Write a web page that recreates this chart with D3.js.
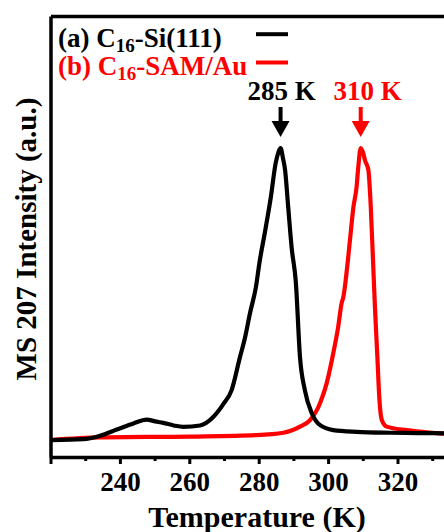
<!DOCTYPE html>
<html>
<head>
<meta charset="utf-8">
<script src="https://cdn.jsdelivr.net/npm/d3@7/dist/d3.min.js"></script>
<style>
  html, body { margin: 0; padding: 0; background: #fff; }
  svg { display: block; }
  text { font-family: "Liberation Serif", "Times New Roman", serif; font-weight: bold; }
</style>
</head>
<body>
<svg id="chart" width="444" height="532"></svg>
<script>
// TPD trace, C16-Si(111): temperature (K) and normalised MS 207 signal
const siTemp = [220, 229.5, 234.3, 239.1, 243.9, 247.7, 250.2, 252.5, 255.5, 258.3, 263.1, 266.9, 269.8, 272.2, 274.6, 276.1, 277.5, 279.2, 280.2, 281.9, 283.5, 284.9, 285.7, 286.3, 287.0, 287.6, 288.5, 289.5, 290.7, 291.9, 293.3, 295.3, 297.7, 301.5, 308.2, 317.8, 326.0, 334.0];
const siSignal = [0.000, 0.003, 0.015, 0.036, 0.057, 0.070, 0.064, 0.059, 0.050, 0.045, 0.050, 0.079, 0.123, 0.171, 0.284, 0.353, 0.435, 0.524, 0.606, 0.719, 0.832, 0.949, 0.986, 1.000, 0.965, 0.925, 0.798, 0.658, 0.541, 0.284, 0.171, 0.092, 0.051, 0.034, 0.028, 0.025, 0.024, 0.023];

// TPD trace, C16-SAM/Au
const auTemp = [220, 234.3, 260.2, 279.4, 287.1, 291.9, 294.8, 297.7, 299.6, 301.5, 302.9, 303.9, 304.4, 305.4, 306.3, 307.3, 308.2, 308.7, 309.4, 310.1, 310.6, 311.6, 312.3, 312.9, 313.5, 314.2, 314.8, 315.5, 316.9, 322.7, 332.2, 334.0];
const auSignal = [0.000, 0.009, 0.012, 0.017, 0.025, 0.046, 0.068, 0.127, 0.195, 0.298, 0.387, 0.469, 0.490, 0.582, 0.685, 0.798, 0.866, 0.935, 1.000, 0.983, 0.959, 0.925, 0.798, 0.627, 0.455, 0.284, 0.137, 0.068, 0.046, 0.034, 0.023, 0.021];

// Axis ticks
const majorTicks = [220, 240, 260, 280, 300, 320, 340];
const minorTicks = [230, 250, 270, 290, 310, 330];
const tickLabels = ["", "240", "260", "280", "300", "320", ""];

// Legend entries and peak annotations
const seriesNames = ["(a) C|16|-Si(111)", "(b) C|16|-SAM/Au"];
const seriesColors = ["#000000", "#ff0000"];
const peakLabels = ["285 K", "310 K"];

const FONT = "'Liberation Serif', 'Times New Roman', serif";
const svg = d3.select("#chart");
const plotLeft = 50.5, plotRight = 466.9, plotTop = 16, plotBottom = 457;

const x = d3.scaleLinear().domain([220, 340]).range([plotLeft, plotRight]);
const y = d3.scaleLinear().domain([-0.058, 1.452]).range([plotBottom, plotTop]);

svg.append("defs").append("clipPath").attr("id", "plotClip")
  .append("rect").attr("x", plotLeft).attr("y", plotTop)
  .attr("width", plotRight - plotLeft).attr("height", plotBottom - plotTop);

const lineGen = d3.line().x(d => x(d[0])).y(d => y(d[1])).curve(d3.curveMonotoneX);

const traces = [
  { t: auTemp, v: auSignal, color: seriesColors[1] },
  { t: siTemp, v: siSignal, color: seriesColors[0] }
];
const plot = svg.append("g").attr("clip-path", "url(#plotClip)");
traces.forEach(tr => {
  plot.append("path")
    .datum(tr.t.map((t, i) => [t, tr.v[i]]))
    .attr("d", lineGen)
    .attr("fill", "none")
    .attr("stroke", tr.color)
    .attr("stroke-width", 4.2)
    .attr("stroke-linejoin", "round");
});

// Axes
const axisStroke = 3.5;
const xAxis = svg.append("g").attr("transform", `translate(0,${plotBottom})`)
  .call(d3.axisBottom(x).tickValues(majorTicks).tickSize(7).tickSizeOuter(0)
    .tickFormat((d, i) => tickLabels[i]));
const xMinor = svg.append("g").attr("transform", `translate(0,${plotBottom})`)
  .call(d3.axisBottom(x).tickValues(minorTicks).tickSize(4).tickSizeOuter(0).tickFormat(""));
xMinor.select(".domain").remove();
[xAxis, xMinor].forEach(g => {
  g.selectAll("line").attr("stroke", "#000").attr("stroke-width", 3);
  g.select(".domain").attr("stroke", "#000").attr("stroke-width", axisStroke);
});
xAxis.attr("font-family", FONT).attr("font-size", 27);
xAxis.selectAll("text")
  .attr("fill", "#000")
  .attr("font-family", FONT)
  .attr("font-weight", "bold")
  .attr("font-size", 27)
  .attr("dy", null)
  .attr("y", 34);

const yAxis = svg.append("g").attr("transform", `translate(${plotLeft},0)`)
  .call(d3.axisLeft(y).tickValues([]).tickSizeOuter(0));
yAxis.select(".domain").attr("stroke", "#000").attr("stroke-width", axisStroke);

const topAxis = svg.append("g").attr("transform", `translate(0,${plotTop})`)
  .call(d3.axisTop(x).tickValues([]).tickSizeOuter(0));
topAxis.select(".domain").attr("stroke", "#000").attr("stroke-width", axisStroke);

// Axis titles
svg.append("text")
  .attr("x", 257).attr("y", 527)
  .attr("text-anchor", "middle")
  .attr("font-size", 30)
  .text("Temperature (K)");

svg.append("text")
  .attr("transform", "translate(36,239) rotate(-90)")
  .attr("text-anchor", "middle")
  .attr("font-size", 29)
  .text("MS 207 Intensity (a.u.)");

// Legend
seriesNames.forEach((name, i) => {
  const parts = name.split("|");
  const by = 46.7 + i * 28.3;
  const t = svg.append("text").attr("x", 58).attr("y", by)
    .attr("font-size", 27).attr("fill", seriesColors[i]);
  t.append("tspan").text(parts[0]);
  t.append("tspan").attr("font-size", 19).attr("dy", 5).text(parts[1]);
  t.append("tspan").attr("dy", -5).text(parts[2]);
  svg.append("line")
    .attr("x1", 256).attr("x2", 288)
    .attr("y1", by - 12.5).attr("y2", by - 12.5)
    .attr("stroke", seriesColors[i]).attr("stroke-width", 4);
});

// Peak arrows, placed at each trace's maximum
const peaks = [
  { t: siTemp, v: siSignal, color: seriesColors[0], label: peakLabels[0], dx: 1 },
  { t: auTemp, v: auSignal, color: seriesColors[1], label: peakLabels[1], dx: 7 }
];
peaks.forEach(p => {
  const idx = d3.maxIndex(p.v);
  const px = x(p.t[idx]);
  const tipY = y(p.v[idx]) - 11;
  svg.append("line")
    .attr("x1", px).attr("x2", px)
    .attr("y1", tipY - 30).attr("y2", tipY - 14)
    .attr("stroke", p.color).attr("stroke-width", 4);
  svg.append("path")
    .attr("d", `M${px - 9},${tipY - 16} L${px + 9},${tipY - 16} L${px},${tipY} Z`)
    .attr("fill", p.color);
  svg.append("text")
    .attr("x", px + p.dx).attr("y", 100)
    .attr("text-anchor", "middle")
    .attr("font-size", 27)
    .attr("fill", p.color)
    .text(p.label);
});
</script>
</body>
</html>
